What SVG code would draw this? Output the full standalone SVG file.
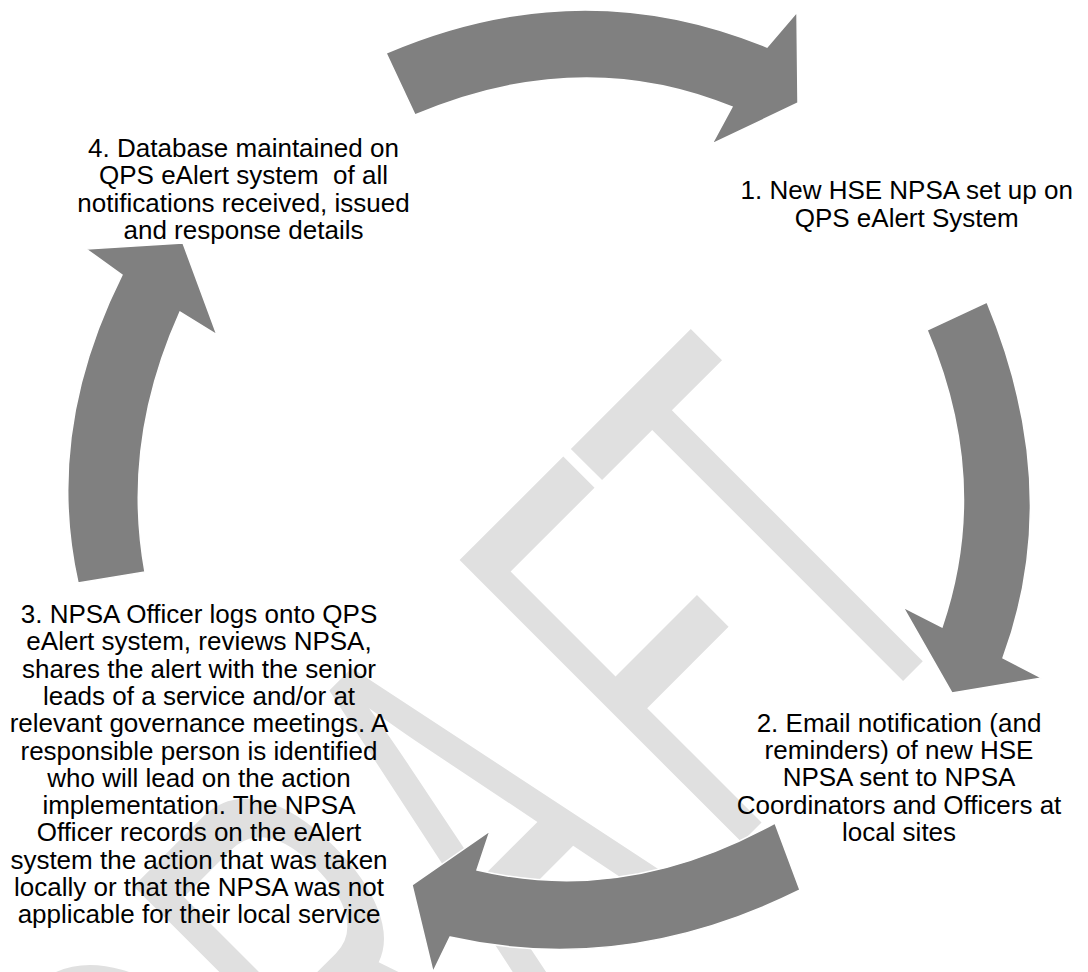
<svg xmlns="http://www.w3.org/2000/svg" width="1088" height="972" viewBox="0 0 1088 972">
<style>
.lbl{font-family:"Liberation Sans",Arial,sans-serif;font-size:26px;fill:#000;text-anchor:middle;white-space:pre}
.arrow{fill:#808080;stroke:#fff;stroke-width:1.5;stroke-linejoin:miter}
.wm{font-family:"Liberation Sans",Arial,sans-serif;fill:#e0e0e0}
</style>
<rect width="1088" height="972" fill="#fff"/>
<g id="watermark">
<text class="wm" x="-257.8 -185.6 -113.4 -31.9 26.5" y="0" font-size="100" transform="matrix(2.1213 -2.1213 4.101 4.101 792 792)">DRAFT</text>
</g>
<g id="connectors">
<path class="arrow" d="M386,53 Q579.5,-30 767,47 L797,12 L798,103 L712,144 L732,107 Q580.5,45 415,115 Z"/>
<path class="arrow" d="M987,302 Q1065,490 1003,658 L1042,678 L952,693 L903,607 L942,627 Q991.5,481.5 927,330 Z"/>
<path class="arrow" d="M800,890 Q625,976.5 450,937 L433,972 L412,885 L490,831 L477,870 Q626,905.5 775,823 Z"/>
<path class="arrow" d="M78,583 Q44,431 122,275 L86,249 L183,243 L217,335 L180,312 Q121.5,442 145,572 Z"/>
</g>
<g id="node-1">
<text class="lbl" x="906.7" y="199.4">1. New HSE NPSA set up on</text>
<text class="lbl" x="906.7" y="226.7">QPS eAlert System</text>
</g>
<g id="node-2">
<text class="lbl" x="899" y="731.7">2. Email notification (and</text>
<text class="lbl" x="899" y="759">reminders) of new HSE</text>
<text class="lbl" x="899" y="786.3">NPSA sent to NPSA</text>
<text class="lbl" x="899" y="813.6">Coordinators and Officers at</text>
<text class="lbl" x="899" y="840.9">local sites</text>
</g>
<g id="node-3">
<text class="lbl" x="199" y="623">3. NPSA Officer logs onto QPS</text>
<text class="lbl" x="199" y="650.3">eAlert system, reviews NPSA,</text>
<text class="lbl" x="199" y="677.6">shares the alert with the senior</text>
<text class="lbl" x="199" y="704.9">leads of a service and/or at</text>
<text class="lbl" x="199" y="732.2">relevant governance meetings. A</text>
<text class="lbl" x="199" y="759.5">responsible person is identified</text>
<text class="lbl" x="199" y="786.8">who will lead on the action</text>
<text class="lbl" x="199" y="814.1">implementation. The NPSA</text>
<text class="lbl" x="199" y="841.4">Officer records on the eAlert</text>
<text class="lbl" x="199" y="868.7">system the action that was taken</text>
<text class="lbl" x="199" y="896">locally or that the NPSA was not</text>
<text class="lbl" x="199" y="923.3">applicable for their local service</text>
</g>
<g id="node-4">
<text class="lbl" x="243.5" y="157">4. Database maintained on</text>
<text class="lbl" x="243.5" y="184.3">QPS eAlert system  of all</text>
<text class="lbl" x="243.5" y="211.6">notifications received, issued</text>
<text class="lbl" x="243.5" y="238.9">and response details</text>
</g>
</svg>
